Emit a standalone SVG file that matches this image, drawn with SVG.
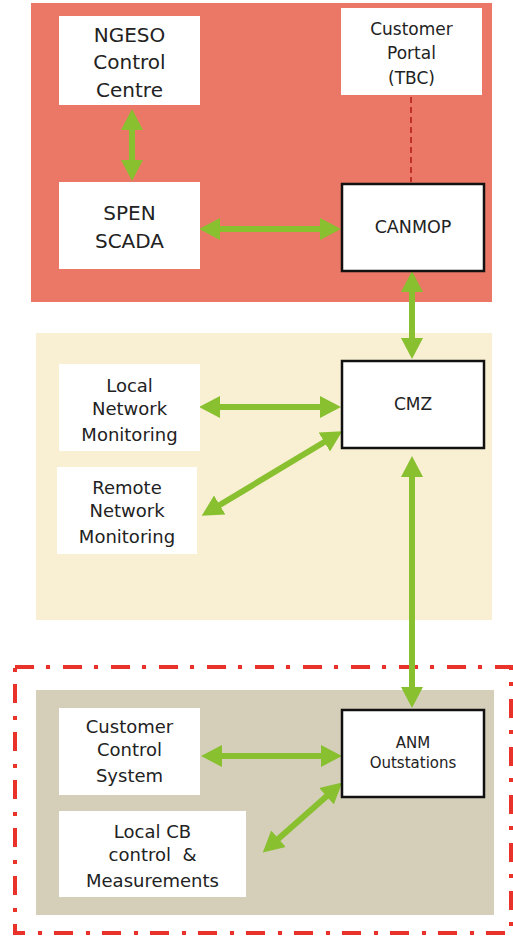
<svg xmlns="http://www.w3.org/2000/svg" width="513" height="938" viewBox="0 0 513 938">
<style>
  .box{fill:#ffffff}
  .bold{fill:#ffffff;stroke:#111111;stroke-width:2.5}
  .t{font-family:"DejaVu Sans","Open Sans",sans-serif;fill:#222222;text-anchor:middle}
  .c{stroke:#88c030;stroke-width:6;fill:none;marker-start:url(#ah);marker-end:url(#ah)}
</style>
<defs>
  <marker id="ah" markerUnits="userSpaceOnUse" markerWidth="22" markerHeight="24" refX="2" refY="12" orient="auto-start-reverse" viewBox="0 0 22 24">
    <path d="M0,1 L21,12 L0,23 Z" fill="#88c030"/>
  </marker>
</defs>
<g id="zones">
  <rect x="31" y="3" width="461" height="299" fill="#eb7767"/>
  <rect x="36" y="333" width="456" height="287" fill="#f9efd3"/>
  <rect x="15" y="667" width="496" height="266" fill="none" stroke="#e8322a" stroke-width="4" stroke-dasharray="19 12 4 13"/>
  <rect x="36" y="690" width="458" height="225" fill="#d5cfb9"/>
</g>
<g id="connectors">
  <line x1="411" y1="97" x2="411" y2="182" stroke="#c0302a" stroke-width="2" stroke-dasharray="6 4"/>
  <line class="c" x1="132" y1="128" x2="132" y2="162"/>
  <line class="c" x1="218" y1="229" x2="322" y2="229"/>
  <line class="c" x1="412" y1="290" x2="412" y2="340"/>
  <line class="c" x1="218" y1="407" x2="322" y2="407"/>
  <line class="c" x1="218" y1="506" x2="326" y2="441"/>
  <line class="c" x1="412" y1="475" x2="412" y2="689"/>
  <line class="c" x1="220" y1="756" x2="323" y2="756"/>
  <line class="c" x1="277" y1="840" x2="328" y2="795"/>
</g>
<g id="ngeso">
  <rect class="box" x="59" y="16" width="141" height="89"/>
  <text class="t" font-size="20" x="129.5" y="42">NGESO</text>
  <text class="t" font-size="20" x="129.5" y="69">Control</text>
  <text class="t" font-size="20" x="129.5" y="97">Centre</text>
</g>
<g id="customer-portal">
  <rect class="box" x="341" y="8" width="141" height="87"/>
  <text class="t" font-size="17" x="411.5" y="35">Customer</text>
  <text class="t" font-size="17" x="411.5" y="59">Portal</text>
  <text class="t" font-size="17" x="411.5" y="84">(TBC)</text>
</g>
<g id="spen-scada">
  <rect class="box" x="59" y="182" width="141" height="87"/>
  <text class="t" font-size="20" x="129.5" y="220">SPEN</text>
  <text class="t" font-size="20" x="129.5" y="248">SCADA</text>
</g>
<g id="canmop">
  <rect class="bold" x="342" y="184" width="142" height="87"/>
  <text class="t" font-size="17.5" x="413" y="233">CANMOP</text>
</g>
<g id="local-nm">
  <rect class="box" x="59" y="364" width="141" height="87"/>
  <text class="t" font-size="18" x="129.5" y="392">Local</text>
  <text class="t" font-size="18" x="129.5" y="415">Network</text>
  <text class="t" font-size="18" x="129.5" y="441">Monitoring</text>
</g>
<g id="remote-nm">
  <rect class="box" x="57" y="467" width="140" height="87"/>
  <text class="t" font-size="18" x="127" y="494">Remote</text>
  <text class="t" font-size="18" x="127" y="517">Network</text>
  <text class="t" font-size="18" x="127" y="543">Monitoring</text>
</g>
<g id="cmz">
  <rect class="bold" x="342" y="361" width="142" height="87"/>
  <text class="t" font-size="17" x="413" y="410">CMZ</text>
</g>
<g id="customer-cs">
  <rect class="box" x="59" y="708" width="141" height="87"/>
  <text class="t" font-size="18" x="129.5" y="733">Customer</text>
  <text class="t" font-size="18" x="129.5" y="756">Control</text>
  <text class="t" font-size="18" x="129.5" y="782">System</text>
</g>
<g id="local-cb">
  <rect class="box" x="59" y="811" width="187" height="86"/>
  <text class="t" font-size="18" x="152.5" y="838">Local CB</text>
  <text class="t" font-size="18" x="152.5" y="861" xml:space="preserve">control  &amp;</text>
  <text class="t" font-size="18" x="152.5" y="887">Measurements</text>
</g>
<g id="anm">
  <rect class="bold" x="342" y="710" width="142" height="87"/>
  <text class="t" font-size="15" x="413" y="748">ANM</text>
  <text class="t" font-size="15" x="413" y="768">Outstations</text>
</g>
</svg>
